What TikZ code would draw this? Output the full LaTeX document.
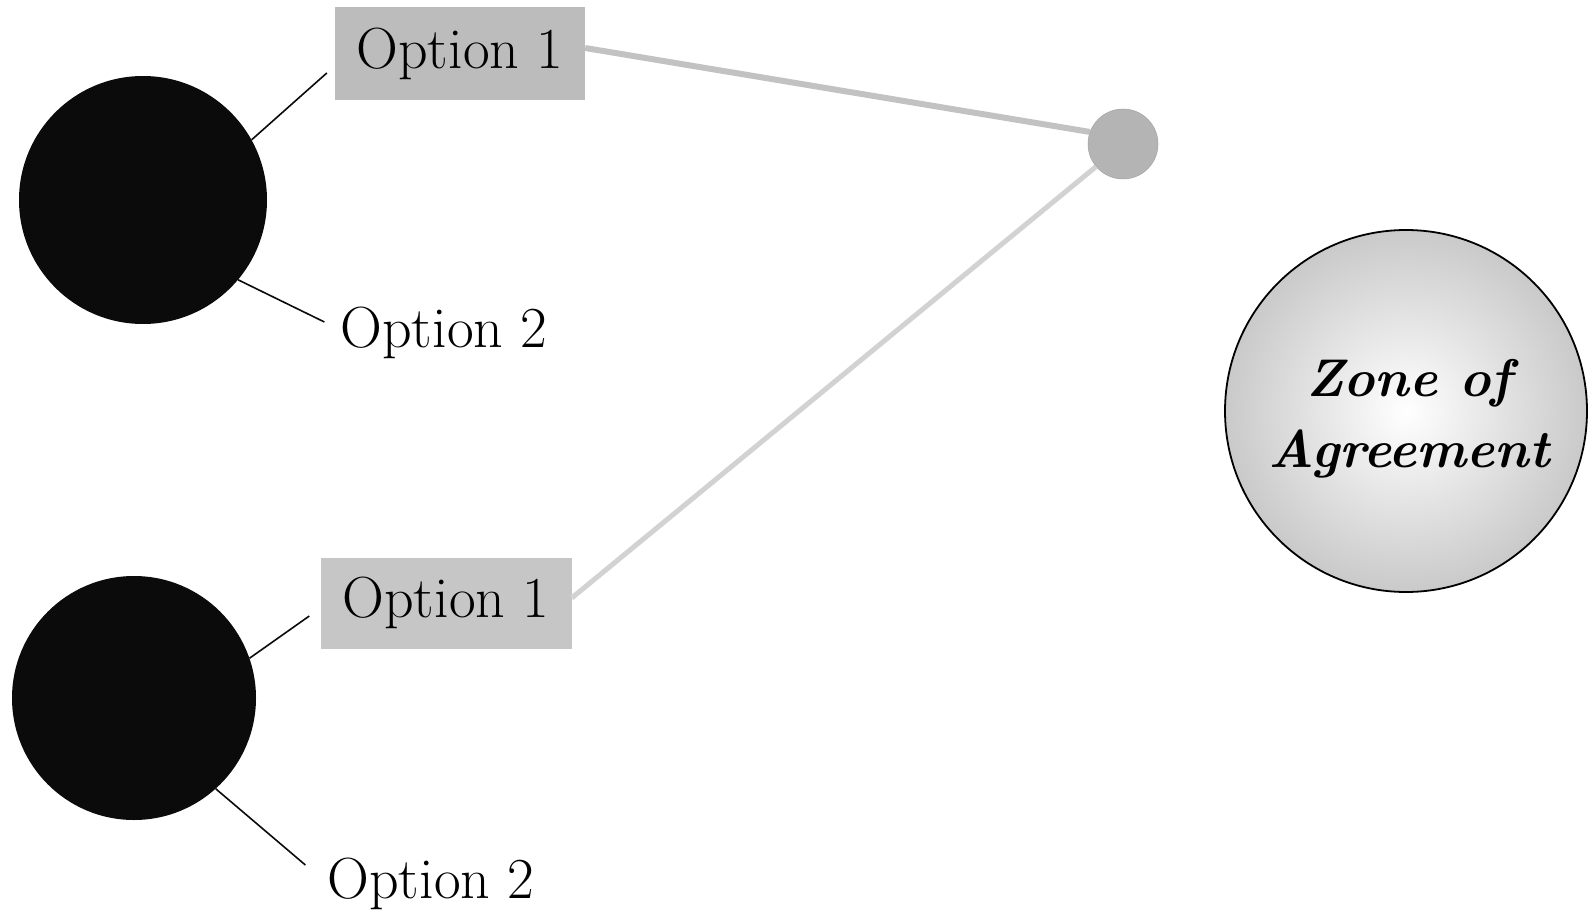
\documentclass[tikz,border=0pt]{standalone}
\usetikzlibrary{calc}
\definecolor{boxgrey}{HTML}{BCBCBC}
\definecolor{boxgreyb}{HTML}{C6C6C6}
\definecolor{dotgrey}{HTML}{B4B4B4}
\definecolor{linkgrey}{HTML}{C2C2C2}
\definecolor{linkgreyb}{HTML}{D2D2D2}
\definecolor{ink}{HTML}{0B0B0B}
\tikzset{
  party/.style={circle, fill=ink, draw=none, inner sep=0pt},
  optbox/.style={rectangle, inner sep=0pt, font=\fontsize{58}{66}\selectfont},
  opttext/.style={inner sep=0pt, font=\fontsize{58}{66}\selectfont},
  tie/.style={draw=ink, line width=1.6pt},
  link/.style={line width=6pt},
}
\begin{document}
\begin{tikzpicture}[x=1pt,y=-1pt]
\useasboundingbox (0,0) rectangle (1590,920);
\fill[white] (0,0) rectangle (1590,920);
% parties
\node[party, minimum size=248pt] (c1) at (143,200) {};
\node[party, minimum size=244pt] (c2) at (134,698) {};
% option boxes and texts
\node[optbox, fill=boxgrey, minimum width=250pt, minimum height=93pt] (o1) at (460,54) {Option 1};
\node[opttext] (o2) at (444,333) {Option 2};
\node[optbox, fill=boxgreyb, minimum width=251pt, minimum height=91pt] (o3) at (446,603) {Option 1};
\node[opttext] (o4) at (431,884) {Option 2};
% meeting dot
\node[circle, fill=dotgrey, draw=dotgrey!90!black, line width=0.5pt, minimum size=70pt, inner sep=0pt] (dot) at (1123,144) {};
% zone of agreement
\node[circle, minimum size=362pt, inner sep=0pt, draw=black, line width=1.8pt,
      shading=radial, inner color=white, outer color=gray!42] (zone) at (1406,411) {};
\node[align=center, inner sep=0pt, font=\fontsize{53}{71}\selectfont\bfseries\itshape] (zonelabel) at (1409,419) {Zone of\\Agreement};
% ties
\draw[tie] (c1.29.5) -- ($(o1.west)+(-8,19)$);
\draw[tie] (c1.-40.8) -- ($(o2.west)+(-16,-11)$);
\draw[tie] (c2.19.8) -- ($(o3.west)+(-11,13)$);
\draw[tie] (c2.-48.9) -- ($(o4.west)+(-22,-19)$);
% links to the meeting dot
\draw[link, draw=linkgrey] ($(o1.east)+(0,-6)$) -- (dot.160);
\draw[link, draw=linkgreyb, line width=5pt] ($(o3.east)+(0,-5)$) -- (dot.220);
\end{tikzpicture}
\end{document}
